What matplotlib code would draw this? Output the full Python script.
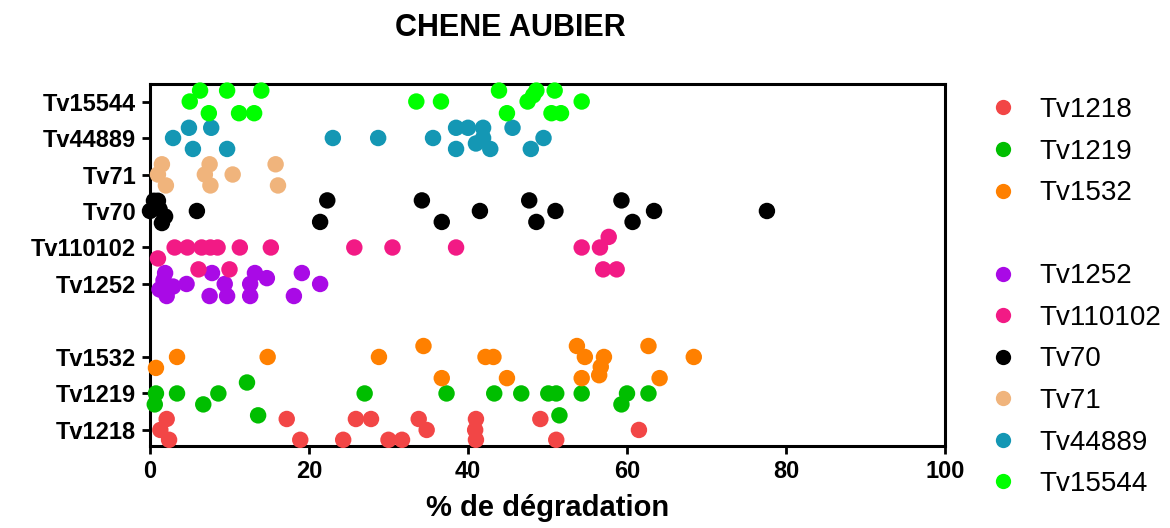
import matplotlib
matplotlib.use("Agg")
import matplotlib.pyplot as plt
from matplotlib.lines import Line2D

plt.rcParams['font.family'] = ['Liberation Sans', 'DejaVu Sans']

# row labels, bottom to top (row 4 is an empty gap)
row_labels = ['Tv1218', 'Tv1219', 'Tv1532', 'Tv1252', 'Tv110102',
              'Tv70', 'Tv71', 'Tv44889', 'Tv15544']
row_pos = [1, 2, 3, 5, 6, 7, 8, 9, 10]

# % degradation values and vertical jitter for each strain
x_tv1218 = [2.1, 1.3, 2.4, 17.2, 18.9, 24.3, 25.9, 27.8, 30.0, 31.7, 33.8, 34.8,
            41.0, 40.9, 41.0, 49.1, 51.1, 61.5]
dy_tv1218 = [0.3, 0.0, -0.27, 0.3, -0.27, -0.27, 0.3, 0.3, -0.27, -0.27, 0.3, 0.0,
             0.3, 0.0, -0.27, 0.3, -0.27, 0.0]

x_tv1219 = [0.75, 0.6, 3.4, 6.7, 8.6, 12.2, 13.6, 27.0, 37.3, 43.3, 46.7, 50.1,
            51.1, 51.5, 54.3, 60.0, 59.3, 62.7]
dy_tv1219 = [0.0, -0.3, 0.0, -0.3, 0.0, 0.3, -0.6, 0.0, 0.0, 0.0, 0.0, 0.0,
             0.0, -0.6, 0.0, 0.0, -0.3, 0.0]

x_tv1532 = [0.75, 3.4, 14.8, 28.8, 34.4, 36.7, 42.2, 43.2, 44.9, 53.7, 54.7, 54.3,
            57.1, 56.7, 56.5, 62.7, 64.1, 68.4]
dy_tv1532 = [-0.3, 0.0, 0.0, 0.0, 0.3, -0.58, 0.0, 0.0, -0.58, 0.3, 0.0, -0.58,
             0.0, -0.27, -0.5, 0.3, -0.58, 0.0]

x_tv1252 = [1.9, 1.7, 2.9, 2.1, 1.2, 4.6, 7.8, 7.5, 9.7, 9.4, 13.2, 12.6, 14.7,
            12.6, 19.1, 18.1, 21.4]
dy_tv1252 = [0.3, 0.1, -0.07, -0.33, -0.15, 0.0, 0.3, -0.33, -0.33, 0.0, 0.3, 0.0,
             0.16, -0.33, 0.3, -0.33, 0.0]

x_tv110102 = [1.0, 3.1, 4.7, 6.5, 7.6, 8.5, 11.3, 15.2, 25.7, 30.5, 6.1, 10.0,
              38.5, 54.3, 56.6, 57.7, 57.0, 58.7]
dy_tv110102 = [-0.3, 0.0, 0.0, 0.0, 0.0, 0.0, 0.0, 0.0, 0.0, 0.0, -0.6, -0.6,
               0.0, 0.0, 0.0, 0.29, -0.6, -0.6]

x_tv70 = [0.0, 0.5, 1.0, 1.9, 1.5, 1.2, 5.9, 22.3, 21.4, 34.2, 36.7, 41.5, 47.7,
          48.6, 51.0, 59.3, 60.7, 63.4, 77.6]
dy_tv70 = [0.0, 0.28, 0.28, -0.15, -0.33, 0.05, 0.0, 0.29, -0.3, 0.29, -0.3, 0.0,
           0.29, -0.3, 0.0, 0.29, -0.3, 0.0, 0.0]

x_tv71 = [1.5, 1.0, 2.0, 7.5, 6.9, 7.6, 10.4, 15.8, 16.1]
dy_tv71 = [0.28, 0.0, -0.3, 0.28, 0.0, -0.3, 0.0, 0.28, -0.3]

x_tv44889 = [4.9, 7.7, 2.9, 5.4, 9.7, 23.0, 28.7, 35.6, 38.5, 40.0, 41.9, 38.5,
             41.0, 41.9, 42.8, 45.6, 47.9, 49.5]
dy_tv44889 = [0.28, 0.28, 0.0, -0.3, -0.3, 0.0, 0.0, 0.0, 0.28, 0.28, 0.28, -0.3,
              -0.15, 0.0, -0.3, 0.28, -0.3, 0.0]

x_tv15544 = [6.3, 5.0, 9.7, 14.0, 7.4, 11.2, 13.1, 33.5, 36.6, 43.9, 48.6, 48.2,
             47.5, 50.9, 44.9, 50.5, 51.7, 54.3]
dy_tv15544 = [0.3, 0.0, 0.3, 0.3, -0.32, -0.32, -0.32, 0.0, 0.0, 0.3, 0.3, 0.17,
              0.0, 0.3, -0.32, -0.32, -0.32, 0.0]

series = [
    ('Tv1218', 1, x_tv1218, dy_tv1218, '#F24646'),
    ('Tv1219', 2, x_tv1219, dy_tv1219, '#00BE00'),
    ('Tv1532', 3, x_tv1532, dy_tv1532, '#FF8000'),
    ('Tv1252', 5, x_tv1252, dy_tv1252, '#A90AE6'),
    ('Tv110102', 6, x_tv110102, dy_tv110102, '#F21A85'),
    ('Tv70', 7, x_tv70, dy_tv70, '#000000'),
    ('Tv71', 8, x_tv71, dy_tv71, '#F0B47C'),
    ('Tv44889', 9, x_tv44889, dy_tv44889, '#1497B4'),
    ('Tv15544', 10, x_tv15544, dy_tv15544, '#00FF00'),
]

fig = plt.figure(figsize=(11.7, 5.28), dpi=100)
ax = fig.add_axes([0.1282, 0.1553, 0.6795, 0.6856])

for name, row, xs, dys, col in series:
    ys = [row + d for d in dys]
    ax.scatter(xs, ys, s=140, color=col, edgecolors='none', zorder=3, clip_on=False)

ax.set_xlim(0, 100)
ax.set_ylim(0.56, 10.48)
ax.set_xticks([0, 20, 40, 60, 80, 100])
ax.set_yticks(row_pos)
ax.set_yticklabels(row_labels)
for sp in ax.spines.values():
    sp.set_linewidth(2.2)
ax.tick_params(direction='out', length=6, width=2, labelsize=17, pad=4)
for t in ax.get_xticklabels() + ax.get_yticklabels():
    t.set_fontweight('bold')

ax.set_xlabel('% de dégradation', fontsize=21, fontweight='bold', labelpad=8)
fig.text(510 / 1170, 1 - 28 / 528, 'CHENE AUBIER', ha='center', va='center',
         fontsize=22, fontweight='bold')

# legend with an empty slot after Tv1532
handles = []
labels = []
for name, row, xs, dys, col in series:
    handles.append(Line2D([], [], marker='o', ls='', color=col, markersize=11,
                          markeredgewidth=0))
    labels.append(name)
    if name == 'Tv1532':
        handles.append(Line2D([], [], ls='', marker=''))
        labels.append('')
fig.legend(handles, labels, loc='upper left', bbox_to_anchor=(978 / 1170, 1 - 86 / 528),
           frameon=False, fontsize=20, labelspacing=0.56, handlelength=1.0,
           handletextpad=0.8, borderaxespad=0)

fig.savefig('out.png', dpi=100)
